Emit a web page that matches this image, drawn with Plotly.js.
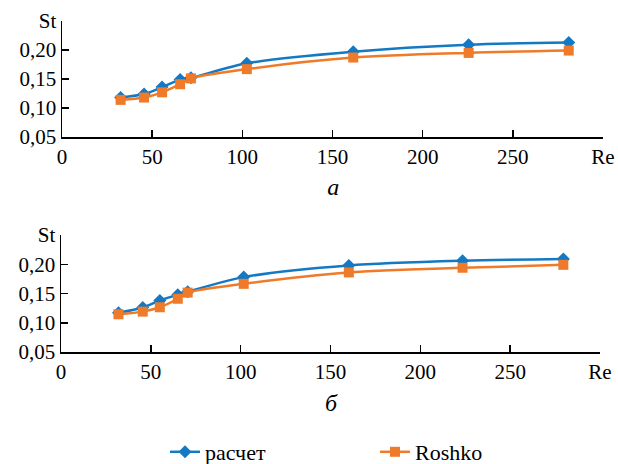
<!DOCTYPE html>
<html>
<head>
<meta charset="utf-8">
<script src="https://cdn.plot.ly/plotly-3.0.1.min.js"></script>
<style>
html,body{margin:0;padding:0;background:#fff;}
#chart{width:618px;height:464px;}
</style>
</head>
<body>
<div id="chart"></div>
<script>
// Data
const reA = [32.5, 45.5, 55.5, 65.5, 71.5, 102.5, 161.5, 225.5, 281];
const calcA = [0.118, 0.124, 0.136, 0.149, 0.152, 0.177, 0.197, 0.209, 0.213];
const roshkoA = [0.114, 0.118, 0.127, 0.141, 0.151, 0.167, 0.187, 0.195, 0.199];

const reB = [32, 45.5, 55, 65, 70.5, 101.7, 160.2, 223.5, 279.6];
const calcB = [0.117, 0.126, 0.138, 0.148, 0.153, 0.178, 0.198, 0.206, 0.209];
const roshkoB = [0.1145, 0.119, 0.1265, 0.141, 0.1515, 0.1665, 0.186, 0.194, 0.199];

const xTickVals = [0, 50, 100, 150, 200, 250, 300];
const xTickText = ['0', '50', '100', '150', '200', '250', 'Re'];
const yTickVals = [0.05, 0.10, 0.15, 0.20, 0.25];
const yTickText = ['0,05', '0,10', '0,15', '0,20', 'St'];

const seriesNames = ['расчет', 'Roshko'];
const panelLabels = ['а', 'б'];

const blue = '#1479c2';
const orange = '#ef7a2a';
const serifFamily = 'Times New Roman';

function calcTrace(x, y, xa, ya, show) {
  return {x: x, y: y, xaxis: xa, yaxis: ya, type: 'scatter', mode: 'lines+markers',
    name: seriesNames[0], showlegend: show,
    line: {color: blue, width: 2.5, shape: 'spline', smoothing: 0.8},
    marker: {symbol: 'diamond', size: 10, color: blue}};
}
function roshkoTrace(x, y, xa, ya, show) {
  return {x: x, y: y, xaxis: xa, yaxis: ya, type: 'scatter', mode: 'lines+markers',
    name: seriesNames[1], showlegend: show,
    line: {color: orange, width: 2.5, shape: 'spline', smoothing: 0.8},
    marker: {symbol: 'square', size: 10, color: orange}};
}

const traces = [
  calcTrace(reA, calcA, 'x', 'y', true),
  roshkoTrace(reA, roshkoA, 'x', 'y', true),
  calcTrace(reB, calcB, 'x2', 'y2', false),
  roshkoTrace(reB, roshkoB, 'x2', 'y2', false)
];

function xAxis(domain, anchor) {
  return {domain: domain, anchor: anchor, range: [0, 300], tickvals: xTickVals, ticktext: xTickText,
    ticks: 'inside', ticklen: 7, tickwidth: 1.5, tickcolor: '#000', automargin: false,
    showline: true, linecolor: '#000', linewidth: 1.5, showgrid: false, zeroline: false,
    tickfont: {family: serifFamily, size: 21, color: '#000'}};
}
function yAxis(domain, anchor) {
  return {domain: domain, anchor: anchor, range: [0.05, 0.25], tickvals: yTickVals, ticktext: yTickText,
    ticks: 'inside', ticklen: 7, tickwidth: 1.5, tickcolor: '#000', automargin: false,
    showline: true, linecolor: '#000', linewidth: 1.5, showgrid: false, zeroline: false,
    tickfont: {family: serifFamily, size: 21, color: '#000'}};
}

const layout = {
  width: 618, height: 464,
  margin: {l: 0, r: 0, t: 0, b: 0, autoexpand: false},
  paper_bgcolor: '#fff', plot_bgcolor: '#fff',
  font: {family: serifFamily, size: 21, color: '#000'},
  xaxis: xAxis([62/618, 603/618], 'y'),
  yaxis: yAxis([1 - 137/464, 1 - 21/464], 'x'),
  xaxis2: xAxis([61/618, 600/618], 'y2'),
  yaxis2: yAxis([1 - 352/464, 1 - 235/464], 'x2'),
  showlegend: true,
  legend: {orientation: 'h', x: 165/618, y: 1 - 452/464, xanchor: 'left', yanchor: 'middle',
    font: {family: serifFamily, size: 22, color: '#000'}, entrywidth: 165, entrywidthmode: 'pixels',
    bgcolor: 'rgba(0,0,0,0)'},
  annotations: [
    {text: panelLabels[0], xref: 'paper', yref: 'paper', x: 333/618, y: 1 - 187/464,
     xanchor: 'center', yanchor: 'middle',
     showarrow: false, font: {family: serifFamily, size: 24, color: '#000'}},
    {text: panelLabels[1], xref: 'paper', yref: 'paper', x: 331/618, y: 1 - 403/464,
     xanchor: 'center', yanchor: 'middle',
     showarrow: false, font: {family: serifFamily, size: 24, color: '#000'}}
  ]
};

Plotly.newPlot('chart', traces, layout, {displayModeBar: false, staticPlot: true}).then(function (gd) {
  gd.querySelectorAll('text').forEach(function (t) {
    t.style.setProperty('font-family', '"Liberation Serif", "Times New Roman", serif', 'important');
    t.setAttribute('font-family', 'Liberation Serif');
  });
  gd.querySelectorAll('.annotation-text').forEach(function (t) {
    t.style.setProperty('font-style', 'italic', 'important');
  });
});
</script>
</body>
</html>
